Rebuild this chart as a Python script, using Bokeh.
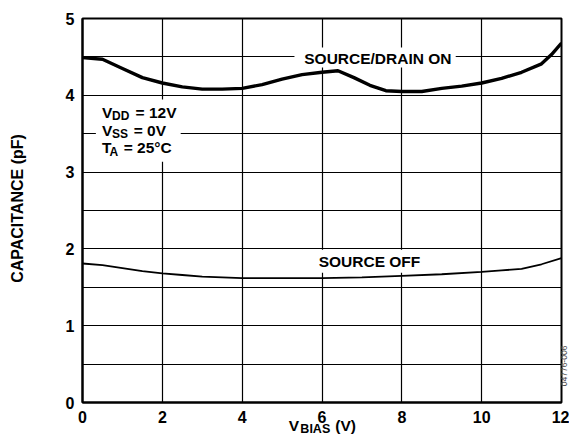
import math
from bokeh.plotting import figure
from bokeh.models import Range1d, Label, FixedTicker
from bokeh.embed import file_html
from bokeh.resources import INLINE

# ---- data ----
on_x = [0, 0.5, 1.0, 1.5, 2.0, 2.5, 3.0, 3.5, 4.0, 4.5, 5.0, 5.5, 6.0, 6.4, 6.8, 7.2, 7.6, 8.0, 8.5, 9.0, 9.5, 10.0, 10.5, 11.0, 11.5, 11.75, 12.0]
on_y = [4.49, 4.47, 4.35, 4.23, 4.16, 4.11, 4.08, 4.08, 4.09, 4.14, 4.21, 4.27, 4.30, 4.32, 4.23, 4.13, 4.06, 4.05, 4.05, 4.09, 4.12, 4.16, 4.22, 4.30, 4.41, 4.53, 4.68]

off_x = [0, 0.5, 1.0, 1.5, 2.0, 2.5, 3.0, 3.5, 4.0, 5.0, 6.0, 7.0, 7.5, 8.0, 9.0, 10.0, 10.5, 11.0, 11.5, 12.0]
off_y = [1.81, 1.79, 1.75, 1.71, 1.68, 1.66, 1.64, 1.63, 1.62, 1.62, 1.62, 1.63, 1.64, 1.65, 1.67, 1.70, 1.72, 1.74, 1.80, 1.88]

x_ticks = [0, 2, 4, 6, 8, 10, 12]
x_gridlines = [2, 4, 6, 8, 10]
y_ticks = [0, 1, 2, 3, 4, 5]
y_gridlines = [0.5, 1, 1.5, 2, 2.5, 3, 3.5, 4, 4.5]

FONT = "Liberation Sans"

p = figure(width=569, height=436, x_range=Range1d(0, 12), y_range=Range1d(0, 5),
           output_backend="svg", toolbar_location=None,
           min_border_left=82, min_border_right=8, min_border_top=18, min_border_bottom=34)
p.outline_line_color = "black"
p.outline_line_width = 2
p.outline_line_alpha = 1

p.xaxis.ticker = FixedTicker(ticks=x_ticks)
p.yaxis.ticker = FixedTicker(ticks=y_ticks)
# grid lines drawn as the grid's minor lines of dedicated tickers
p.xgrid.ticker = FixedTicker(ticks=[], minor_ticks=x_gridlines)
p.ygrid.ticker = FixedTicker(ticks=[], minor_ticks=y_gridlines)
for grid in (p.xgrid, p.ygrid):
    grid.grid_line_color = None
    grid.minor_grid_line_color = "black"
    grid.minor_grid_line_width = 1.2
    grid.minor_grid_line_alpha = 1.0

for ax in (p.xaxis, p.yaxis):
    ax.axis_line_color = "black"
    ax.axis_line_width = 2
    ax.major_tick_line_color = None
    ax.minor_tick_line_color = None
    ax.major_tick_out = 0
    ax.major_tick_in = 0
    ax.minor_tick_out = 0
    ax.minor_tick_in = 0
    ax.major_label_text_font = FONT
    ax.major_label_text_font_style = "bold"
    ax.major_label_text_font_size = "16px"
    ax.major_label_text_color = "black"
p.yaxis.major_label_standoff = 8
p.xaxis.major_label_standoff = 8

# white boxes behind labels (cover grid lines)
p.quad(left=[0.335], right=[2.46], bottom=[3.135], top=[3.944], fill_color="white", line_color=None)
p.quad(left=[5.31], right=[9.35], bottom=[4.361], top=[4.622], fill_color="white", line_color=None)
p.quad(left=[5.7], right=[8.65], bottom=[1.69], top=[1.99], fill_color="white", line_color=None)

p.line(on_x, on_y, line_color="black", line_width=3.4)
p.line(off_x, off_y, line_color="black", line_width=1.8)


def lab(x, y, text, size, xo=0, align="left", baseline="alphabetic", angle=0, color="black",
        style="bold", place=None):
    lbl = Label(x=x, y=y, text=text, x_offset=xo, text_align=align, text_baseline=baseline,
                angle=angle, text_font=FONT, text_font_style=style,
                text_font_size=f"{size}px", text_color=color)
    if place is None:
        p.add_layout(lbl)
    else:
        p.add_layout(lbl, place)


# curve labels
lab(7.40, 4.48, "SOURCE/DRAIN ON", 15.5, align="center", baseline="middle")
lab(7.19, 1.835, "SOURCE OFF", 15.5, align="center", baseline="middle")

# conditions block
sub_dy = 0.052
for base, main, sub, rest, sub_xo, rest_xo in [
        (3.776, "V", "DD", "= 12V", 10, 33.5),
        (3.542, "V", "SS", "= 0V", 10, 31.6),
        (3.320, "T", "A", "= 25\u00b0C", 7.5, 21.6)]:
    lab(0.49, base, main, 15.5)
    lab(0.49, base - sub_dy, sub, 12, xo=sub_xo)
    lab(0.49, base, rest, 15.5, xo=rest_xo)

# y axis title (held by the left panel, positioned in data units)
lab(-1.628, 2.526, "CAPACITANCE (pF)", 16, align="center", baseline="middle",
    angle=math.pi / 2, place="left")

# x axis title pieces
lab(5.165, -0.2995, "V", 15.5, place="left")
lab(5.165, -0.3386, "BIAS", 12.5, xo=11.7, place="above")
lab(5.165, -0.2995, "(V)", 15.5, xo=46.7, place="left")

# figure code
lab(12.070, 0.476, "04776-006", 8.5, align="center", baseline="middle", angle=math.pi / 2,
    color="#444444", style="normal", place="left")

open("out.html", "w").write(file_html(p, INLINE))
